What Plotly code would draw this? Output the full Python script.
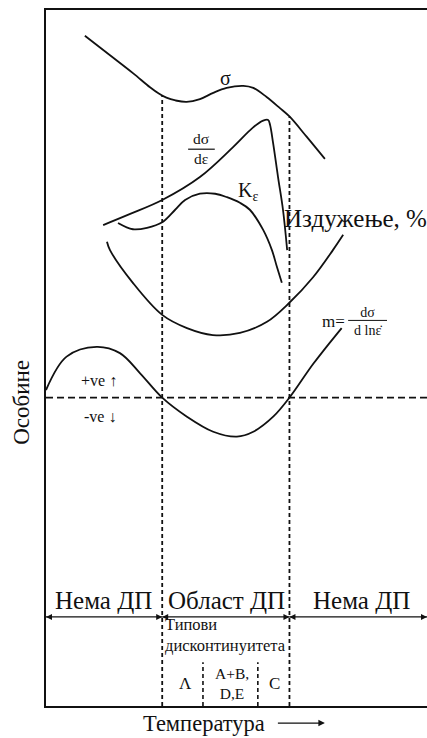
import numpy as np
import plotly.graph_objects as go

# --- schematic property curves vs. temperature (arbitrary units, 0-100) ---
temp_sigma = [10.2, 16.8, 22.9, 27.3, 29.6, 31.6, 34.0, 36.9, 40.4, 43.9, 47.4, 51.8, 54.4, 57.9, 61.4, 63.9, 68.4, 73.2]
sigma = [96.3, 93.5, 90.9, 88.9, 88.0, 87.4, 87.0, 86.8, 87.2, 88.1, 88.8, 89.1, 88.8, 87.5, 85.9, 84.7, 81.8, 78.6]

temp_dsde = [15.0, 22.1, 30.5, 40.4, 49.1, 54.3, 57.0, 58.3, 58.8, 59.6, 60.9, 62.2, 63.3]
dsde = [69.1, 70.7, 72.7, 76.0, 80.3, 83.1, 84.1, 84.2, 83.5, 80.9, 76.0, 71.3, 65.5]

temp_k = [18.9, 22.8, 26.5, 30.5, 33.9, 36.5, 40.4, 44.4, 47.5, 50.9, 53.5, 57.0, 59.3, 60.6, 61.9]
k_eps = [69.4, 68.5, 68.7, 69.5, 71.3, 72.7, 73.6, 73.6, 73.1, 72.3, 71.3, 68.4, 65.5, 63.1, 60.8]

temp_elong = [16.0, 16.8, 22.8, 30.5, 37.0, 43.8, 50.9, 58.0, 63.8, 70.1, 75.3, 78.0]
elong = [66.7, 65.5, 60.8, 56.2, 54.3, 53.3, 53.6, 55.2, 57.9, 61.6, 65.5, 67.7]

temp_m = [0.0, 5.4, 13.3, 19.4, 24.7, 30.5, 36.9, 43.9, 50.1, 54.4, 59.7, 63.9, 70.2, 77.6]
m_rate = [45.4, 50.2, 51.6, 50.7, 47.8, 44.3, 41.6, 39.4, 38.7, 39.4, 41.6, 44.3, 49.2, 54.3]

# region boundaries (dynamic strain ageing range) and sub-ranges of discontinuity types
dsa_bounds = [30.5, 63.9]
type_bounds = [41.2, 55.6]
type_top = 6.3
zero_level = 44.3
arrow_level = 12.8
t_min, t_max = 0, 100

region_labels = ["Нема ДП", "Област ДП", "Нема ДП"]
type_labels = ["Λ", "A+B,<br>D,E", "C"]

SERIF = "Liberation Serif"
INK = "#111111"

fig = go.Figure()

def line(x, y, width=1.8, dash=None, shape="linear"):
    fig.add_trace(go.Scatter(x=x, y=y, mode="lines",
                             line=dict(color=INK, width=width, dash=dash, shape=shape,
                                       smoothing=1.0 if shape == "spline" else None),
                             hoverinfo="skip", showlegend=False))

for xs, ys in [(temp_sigma, sigma), (temp_dsde, dsde), (temp_k, k_eps),
               (temp_elong, elong), (temp_m, m_rate)]:
    line(xs, ys, shape="spline")

# vertical dashed boundaries, starting where they meet the flow-stress curve
for b in dsa_bounds:
    top = float(np.interp(b, temp_sigma, sigma))
    line([b, b], [0, top], dash="4px,3px")
for b in type_bounds:
    line([b, b], [0, type_top], width=1.6, dash="4px,3px")

# zero line of strain-rate sensitivity
line([t_min, t_max], [zero_level, zero_level], dash="7px,4px")

# double-headed range arrows
edges = [t_min] + dsa_bounds + [t_max]
for a, b in zip(edges[:-1], edges[1:]):
    fig.add_trace(go.Scatter(x=[a, b], y=[arrow_level, arrow_level], mode="lines+markers",
                             line=dict(color=INK, width=1.3),
                             marker=dict(symbol=["arrow-left", "arrow-right"], size=6,
                                         color=INK, line=dict(width=0)),
                             cliponaxis=False, hoverinfo="skip", showlegend=False))

annotations = []

def label(x, y, text, size, **kw):
    d = dict(x=x, y=y, text=text, showarrow=False, xref="x", yref="y",
             xanchor="center", yanchor="middle",
             font=dict(family=SERIF, size=size, color=INK))
    d.update(kw)
    annotations.append(d)

# region names
for xc, txt in zip([15.1, 47.4, 82.8], region_labels):
    label(xc, 15.2, txt, 25)

label(30.6, 10.2, "Типови<br>дисконтинуитета", 16.5, xanchor="left", align="left")
label(36.5, 3.3, type_labels[0], 17)
label(48.7, 3.3, type_labels[1], 15.5)
label(60.1, 3.3, type_labels[2], 17)

# curve labels
label(47.2, 90.2, "σ", 20)
label(40.7, 80.1, "dσ<br>dε", 15.5)
label(53.0, 73.9, "K<sub>ε</sub>", 20)
label(61.9, 70.1, "Издужење, %", 25, xanchor="left")
label(75.5, 55.3, "m=", 17)
label(84.4, 55.2, "dσ<br>d lnε̇", 14)
label(13.9, 46.8, "+ve <b>↑</b>", 16)
label(14.1, 41.6, "-ve <b>↓</b>", 16)

# axis titles (the temperature title carries its own arrow)
annotations.append(dict(x=0.732, y=-0.0245, xref="paper", yref="paper",
                        text="Температура\u00a0\u00a0",
                        showarrow=True, ax=-115, ay=0, axref="pixel", ayref="pixel",
                        arrowhead=2, arrowsize=1, arrowwidth=1.3, arrowcolor=INK,
                        standoff=0, borderpad=1, xanchor="center", yanchor="middle",
                        font=dict(family=SERIF, size=22.5, color=INK)))
annotations.append(dict(x=-0.063, y=0.437, xref="paper", yref="paper", text="Особине",
                        xanchor="center", yanchor="middle",
                        textangle=-90, showarrow=False,
                        font=dict(family=SERIF, size=23, color=INK)))

# fraction bars
shapes = [
    dict(type="line", x0=37.3, x1=44.3, y0=80.0, y1=80.0, xref="x", yref="y",
         line=dict(color=INK, width=1.2)),
    dict(type="line", x0=79.3, x1=89.5, y0=55.4, y1=55.4, xref="x", yref="y",
         line=dict(color=INK, width=1.0)),
]

fig.update_layout(
    width=427, height=738,
    margin=dict(l=46, r=0, t=10, b=32),
    paper_bgcolor="white", plot_bgcolor="white",
    showlegend=False,
    annotations=annotations,
    shapes=shapes,
    xaxis=dict(range=[t_min, t_max], showgrid=False, zeroline=False, showticklabels=False,
               ticks="", showline=True, mirror=True, linecolor=INK, linewidth=2),
    yaxis=dict(range=[0, 100], showgrid=False, zeroline=False, showticklabels=False,
               ticks="", showline=True, mirror=False, linecolor=INK, linewidth=2),
)

fig.write_html("out.html")
